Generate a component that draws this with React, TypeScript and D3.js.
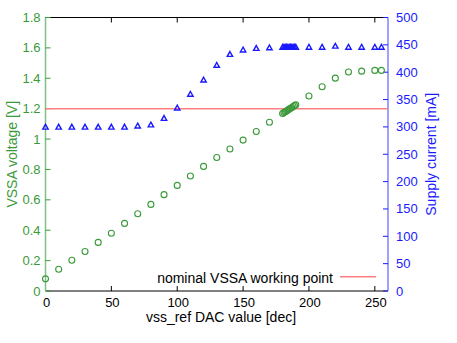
import { useRef, useEffect } from 'react';
import * as d3 from 'd3';

// DAC code (x), VSSA voltage [V] (circles), supply current [mA] (triangles)
const dacValues = [
  0, 10, 20, 30, 40, 50, 60, 70, 80, 90, 100, 110, 120, 130, 140, 150, 160, 170,
  180, 181, 182, 183, 184, 185, 186, 187, 188, 189, 190,
  200, 210, 220, 230, 240, 250, 255,
];
const vssaVoltage = [
  0.08, 0.143, 0.202, 0.26, 0.32, 0.38, 0.445, 0.508, 0.57, 0.634, 0.695, 0.757, 0.82, 0.879, 0.935, 0.993, 1.05, 1.111,
  1.168, 1.174, 1.18, 1.185, 1.191, 1.197, 1.203, 1.208, 1.214, 1.22, 1.225,
  1.283, 1.344, 1.401, 1.441, 1.447, 1.452, 1.452,
];
const supplyCurrent = [
  300, 300, 300, 300, 300, 300, 300, 302, 304, 316, 335, 360, 386, 413, 433, 441, 444, 445,
  446, 446, 446, 446, 446, 446, 446, 446, 446, 446, 446,
  446, 446, 448, 446, 446, 446, 446,
];
const xTicks = [0, 50, 100, 150, 200, 250];
const vTicks = [0, 0.2, 0.4, 0.6, 0.8, 1, 1.2, 1.4, 1.6, 1.8];
const iTicks = [0, 50, 100, 150, 200, 250, 300, 350, 400, 450, 500];
const nominalVssa = 1.2;

export default function App() {
  const svgRef = useRef(null);
  const width = 457, height = 343;
  const margin = { top: 17.5, right: 69, bottom: 52, left: 45.5 };

  const green = '#3a9a3a', greenAxis = '#80c080';
  const blue = '#1a1aff', blueAxis = '#8080ff';
  const red = '#ff7f7f';

  function renderChart() {
    document.body.style.margin = '0';
    const svg = d3.select(svgRef.current);
    svg.selectAll('*').remove();
    const font = '"Liberation Sans", Arial, sans-serif';

    const x = d3.scaleLinear().domain([0, 260]).range([margin.left, width - margin.right]);
    const yV = d3.scaleLinear().domain([0, 1.8]).range([height - margin.bottom, margin.top]);
    const yI = d3.scaleLinear().domain([0, 500]).range([height - margin.bottom, margin.top]);

    const x0 = x.range()[0], x1 = x.range()[1];
    const yb = yV.range()[0], yt = yV.range()[1];
    const tickLen = 5;

    // top & bottom axes (black)
    svg.append('line').attr('x1', x0).attr('x2', x1).attr('y1', yt).attr('y2', yt).attr('stroke', '#000');
    svg.append('line').attr('x1', x0).attr('x2', x1).attr('y1', yb).attr('y2', yb).attr('stroke', '#000');
    const xt = svg.append('g');
    xTicks.forEach((t) => {
      xt.append('line').attr('x1', x(t)).attr('x2', x(t)).attr('y1', yt).attr('y2', yt + tickLen).attr('stroke', '#000');
      xt.append('line').attr('x1', x(t)).attr('x2', x(t)).attr('y1', yb).attr('y2', yb - tickLen).attr('stroke', '#000');
      xt.append('text').attr('x', x(t) + 1).attr('y', yb + 16).attr('text-anchor', 'middle')
        .attr('font-size', 13).attr('font-family', font).attr('fill', '#000').text(t);
    });

    // left axis (green)
    svg.append('line').attr('x1', x0).attr('x2', x0).attr('y1', yb).attr('y2', yt).attr('stroke', greenAxis).attr('stroke-width', 1.5);
    vTicks.forEach((t) => {
      svg.append('line').attr('x1', x0).attr('x2', x0 + tickLen).attr('y1', yV(t)).attr('y2', yV(t)).attr('stroke', green);
      svg.append('text').attr('x', x0 - 5).attr('y', yV(t) + 4.5).attr('text-anchor', 'end')
        .attr('font-size', 13).attr('font-family', font).attr('fill', green).text(d3.format('~g')(t));
    });

    // right axis (blue)
    svg.append('line').attr('x1', x1).attr('x2', x1).attr('y1', yb).attr('y2', yt).attr('stroke', blueAxis).attr('stroke-width', 1.5);
    iTicks.forEach((t) => {
      svg.append('line').attr('x1', x1).attr('x2', x1 - tickLen).attr('y1', yI(t)).attr('y2', yI(t)).attr('stroke', blue);
      svg.append('text').attr('x', x1 + 8).attr('y', yI(t) + 4.5).attr('text-anchor', 'start')
        .attr('font-size', 13).attr('font-family', font).attr('fill', blue).text(t);
    });

    // axis titles
    svg.append('text').attr('x', 221).attr('y', 322).attr('text-anchor', 'middle')
      .attr('font-size', 14).attr('font-family', font).attr('fill', '#000').text('vss_ref DAC value [dec]');
    svg.append('text').attr('transform', `translate(17,${(yb + yt) / 2}) rotate(-90)`).attr('text-anchor', 'middle')
      .attr('font-size', 14).attr('font-family', font).attr('fill', green).text('VSSA voltage [V]');
    svg.append('text').attr('transform', `translate(436,${(yb + yt) / 2}) rotate(-90)`).attr('text-anchor', 'middle')
      .attr('font-size', 14).attr('font-family', font).attr('fill', blue).text('Supply current [mA]');

    // nominal working point line
    svg.append('line').attr('x1', x0).attr('x2', x1).attr('y1', yV(nominalVssa)).attr('y2', yV(nominalVssa))
      .attr('stroke', red).attr('stroke-width', 1.5);

    // supply current triangles
    const tri = 'M0,-2.6L2.7,2.2L-2.7,2.2Z';
    svg.append('g').selectAll('path').data(dacValues).join('path')
      .attr('d', tri)
      .attr('transform', (d, i) => `translate(${x(d)},${yI(supplyCurrent[i])})`)
      .attr('fill', 'none').attr('stroke', blue).attr('stroke-width', 1.4);

    // VSSA voltage circles
    svg.append('g').selectAll('circle').data(dacValues).join('circle')
      .attr('cx', (d) => x(d)).attr('cy', (d, i) => yV(vssaVoltage[i])).attr('r', 3)
      .attr('fill', 'none').attr('stroke', green).attr('stroke-width', 1.1);

    // legend
    svg.append('text').attr('x', 333).attr('y', 283.3).attr('text-anchor', 'end')
      .attr('font-size', 14).attr('font-family', font).attr('fill', '#000').text('nominal VSSA working point');
    svg.append('line').attr('x1', 340).attr('x2', 376).attr('y1', 276.7).attr('y2', 276.7)
      .attr('stroke', red).attr('stroke-width', 1.5);
  }

  useEffect(() => {
    renderChart();
  }, []);

  return (
    <div className="chart">
      <svg ref={svgRef} width={width} height={height} style={{ display: 'block' }} />
    </div>
  );
}
